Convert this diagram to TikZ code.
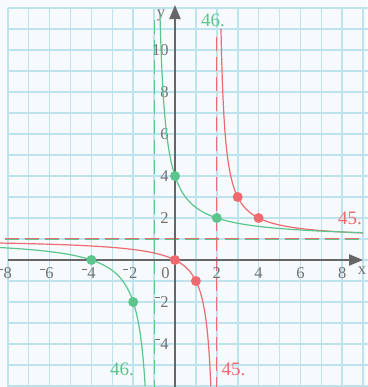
\documentclass[tikz,border=0pt]{standalone}
\usepackage{fontspec}
\setmainfont{Liberation Serif}
\usetikzlibrary{arrows.meta}
\definecolor{cred}{HTML}{EE6A6E}
\definecolor{cgreen}{HTML}{5BC58B}
\definecolor{caxis}{HTML}{666666}
\definecolor{ctick}{HTML}{707070}
\definecolor{cgrid}{HTML}{BEE3EF}
\definecolor{cbg}{HTML}{F6FAFC}
\newcommand{\mneg}{\llap{\rule[0.55em]{0.3em}{0.06em}\hspace{0.04em}}}
\tikzset{
  gridline/.style={draw=cgrid, line width=1.6pt},
  axisline/.style={draw=caxis, line width=2pt, -{Triangle[length=14pt,width=11pt]}},
  ticklab/.style={text=ctick, font=\fontsize{16.5}{19}\selectfont, inner sep=0pt},
  curvelab/.style={font=\fontsize{19}{22}\selectfont, inner sep=0pt},
  redcurve/.style={draw=cred, line width=1.2pt},
  greencurve/.style={draw=cgreen, line width=1.2pt},
  asym/.style={line width=1.2pt, dash pattern=on 14pt off 6pt},
  reddot/.style={circle, fill=cred, inner sep=0pt, minimum size=10pt},
  greendot/.style={circle, fill=cgreen, inner sep=0pt, minimum size=10pt}
}
\begin{document}
\begin{tikzpicture}[x=20.9pt, y=21pt]
\useasboundingbox (-175pt,-127pt) rectangle (192pt,260pt);
\fill[cbg] (-175pt,-127pt) rectangle (192pt,260pt);
% grid
\foreach \i in {-8,...,9} \draw[gridline] (\i,-6.2) -- (\i,12);
\foreach \j in {-6,...,12} \draw[gridline] (-8,\j) -- (9.3,\j);
% asymptotes
\draw[asym, draw=cgreen] (-8.13,0.97) -- (9,0.97);
\draw[asym, draw=cred] (-8.13,1.02) -- (9,1.02);
\draw[asym, draw=cgreen] (-1,11.43) -- (-1,-6.2);
\draw[asym, draw=cred] (2,10.6) -- (2,-6.2);
% axes
\coordinate (xs) at (-7.98,0);
\coordinate (xe) at (9.0,0);
\coordinate (ys) at (0,-6.2);
\coordinate (ye) at (0,12.14);
\draw[axisline] (xs) -- (xe);
\draw[axisline] (ys) -- (ye);
\node[ticklab] (xlab) at (8.95,-0.5) {x};
\node[ticklab] (ylab) at (-0.67,11.65) {y};
% x tick labels
\foreach \v/\t in {-8/{\mneg 8},-6/{\mneg 6},-4/{\mneg 4},-2/{\mneg 2},2/2,4/4,6/6,8/8}
  \node[ticklab] (xt\v) at (\v,-0.64) {\t};
\node[ticklab] (zero) at (-0.45,-0.62) {0};
% y tick labels
\foreach \v/\t in {2/2,4/4,6/6,8/8,10/10,-2/{\mneg 2},-4/{\mneg 4}}
  \node[ticklab, anchor=east] (yt\v) at (-0.3,\v) {\t};
% curves
\draw[redcurve, domain=-8.4:1.716, samples=200, smooth] plot (\x,{1+2/(\x-2)});
\draw[redcurve, domain=2.2:9, samples=200, smooth] plot (\x,{1+2/(\x-2)});
\draw[greencurve, domain=-8.4:-1.4255, samples=200, smooth] plot (\x,{1+3/(\x+1)});
\draw[greencurve, domain=-0.72:9, samples=200, smooth] plot (\x,{1+3/(\x+1)});
% points
\node[greendot] (g1) at (0,4) {};
\node[greendot] (g2) at (2,2) {};
\node[greendot] (g3) at (-4,0) {};
\node[greendot] (g4) at (-2,-2) {};
\node[reddot] (r1) at (0,0) {};
\node[reddot] (r2) at (1,-1) {};
\node[reddot] (r3) at (3,3) {};
\node[reddot] (r4) at (4,2) {};
% curve labels
\node[curvelab, text=cgreen] (l46a) at (1.82,11.43) {46.};
\node[curvelab, text=cgreen] (l46b) at (-2.54,-5.19) {46.};
\node[curvelab, text=cred] (l45a) at (8.37,2.0) {45.};
\node[curvelab, text=cred] (l45b) at (2.8,-5.19) {45.};
\end{tikzpicture}
\end{document}
